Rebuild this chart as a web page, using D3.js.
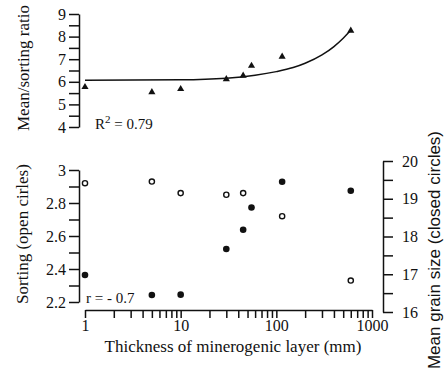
<!DOCTYPE html>
<html>
<head>
<meta charset="utf-8">
<script src="https://cdn.jsdelivr.net/npm/d3@7"></script>
<style>
  body { margin: 0; background: #fff; }
  text { font-family: "Liberation Serif", "Times New Roman", serif; fill: #111; }
  .domain, .tick line { stroke: #111; stroke-width: 1.5; }
</style>
</head>
<body>
<div id="chart"></div>
<script>
// thickness of minerogenic layer (mm)
const thickness = [1, 5, 10, 30, 45, 55, 115, 600];
// mean/sorting ratio (triangles, top panel)
const ratio = [5.77, 5.54, 5.68, 6.12, 6.27, 6.71, 7.11, 8.26];
// fitted curve
const fitX = [1, 10, 30, 60, 100, 150, 200, 300, 400, 500, 600];
const fitY = [6.07, 6.09, 6.16, 6.29, 6.45, 6.63, 6.82, 7.19, 7.56, 7.93, 8.28];
// sorting (open circles, left axis)
const sortingX = [1, 5, 10, 30, 45, 115, 600];
const sorting = [2.92, 2.93, 2.86, 2.85, 2.86, 2.72, 2.33];
// mean grain size (closed circles, right axis)
const grain = [16.98, 16.45, 16.46, 17.67, 18.18, 18.77, 19.45, 19.21];

const xLabels = [1, 10, 100, 1000];
const ratioTicks = d3.range(4, 9.01, 0.5);
const sortTicks = d3.range(2.2, 3.001, 0.1);
const grainTicks = d3.range(16, 20.01, 0.5);

const width = 445, height = 375;

const svg = d3.select("#chart").append("svg")
    .attr("width", width)
    .attr("height", height);

const x = d3.scaleLog().domain([1, 1000]).range([85, 372]);
const yRatio = d3.scaleLinear().domain([4, 9]).range([127, 14]);
const ySort = d3.scaleLinear().domain([2.2, 3]).range([302, 170]);
const yGrain = d3.scaleLinear().domain([16, 20]).range([312, 161]);

const fmtInt = d => Math.abs(d - Math.round(d)) < 1e-6 ? d3.format("d")(d) : "";

// ---- top panel ----
svg.append("g")
    .attr("transform", "translate(79,0)")
    .call(d3.axisLeft(yRatio).tickValues(ratioTicks).tickSize(10).tickSizeOuter(0).tickFormat(fmtInt))
    .call(g => g.selectAll("text").attr("font-size", 16).attr("x", -13));

svg.append("path")
    .datum(fitX.map((v, i) => [v, fitY[i]]))
    .attr("fill", "none")
    .attr("stroke", "#111")
    .attr("stroke-width", 1.5)
    .attr("d", d3.line().x(d => x(d[0])).y(d => yRatio(d[1])).curve(d3.curveMonotoneX));

svg.selectAll(".tri")
    .data(thickness)
    .enter()
    .append("path")
    .attr("class", "tri")
    .attr("transform", (d, i) => `translate(${x(d)},${yRatio(ratio[i])})`)
    .attr("d", d3.symbol(d3.symbolTriangle).size(22))
    .attr("fill", "#111");

const r2 = svg.append("text").attr("x", 95).attr("y", 129).attr("font-size", 15);
r2.append("tspan").text("R");
r2.append("tspan").attr("dy", -6).attr("font-size", 11).text("2");
r2.append("tspan").attr("dy", 6).text(" = 0.79");

svg.append("text")
    .attr("transform", "translate(29,68) rotate(-90)")
    .attr("text-anchor", "middle")
    .attr("font-size", 17)
    .text("Mean/sorting ratio");

// ---- bottom panel ----
svg.append("g")
    .attr("transform", "translate(79,0)")
    .call(d3.axisLeft(ySort).tickValues(sortTicks).tickSize(10).tickSizeOuter(0)
        .tickFormat(d => Math.round(d * 10) % 2 === 0 ? d3.format(".1f")(d).replace("3.0", "3") : ""))
    .call(g => g.selectAll("text").attr("font-size", 16).attr("x", -13));

svg.append("g")
    .attr("transform", "translate(383,0)")
    .call(d3.axisRight(yGrain).tickValues(grainTicks).tickSize(10).tickSizeOuter(0).tickFormat(fmtInt))
    .call(g => g.selectAll("text").attr("font-size", 16).attr("x", 19));

const xTicks = [];
[1, 10, 100].forEach(dec => d3.range(1, 10).forEach(k => xTicks.push(k * dec)));
xTicks.push(1000);

svg.append("g")
    .attr("transform", "translate(0,310)")
    .call(d3.axisBottom(x).tickValues(xTicks).tickSize(8).tickSizeOuter(0)
        .tickFormat(d => xLabels.includes(d) ? d : ""))
    .call(g => g.selectAll("text").attr("font-size", 16).attr("dy", null).attr("y", 21));

svg.selectAll(".open")
    .data(sortingX)
    .enter()
    .append("circle")
    .attr("class", "open")
    .attr("cx", d => x(d))
    .attr("cy", (d, i) => ySort(sorting[i]))
    .attr("r", 2.6)
    .attr("fill", "#fff")
    .attr("stroke", "#111")
    .attr("stroke-width", 1.4);

svg.selectAll(".closed")
    .data(thickness)
    .enter()
    .append("circle")
    .attr("class", "closed")
    .attr("cx", d => x(d))
    .attr("cy", (d, i) => yGrain(grain[i]))
    .attr("r", 3.3)
    .attr("fill", "#111");

svg.append("text")
    .attr("x", 86).attr("y", 303)
    .attr("font-size", 15)
    .text("r = - 0.7");

svg.append("text")
    .attr("x", 233).attr("y", 352)
    .attr("text-anchor", "middle")
    .attr("font-size", 17)
    .text("Thickness of minerogenic layer (mm)");

svg.append("text")
    .attr("transform", "translate(28,234) rotate(-90)")
    .attr("text-anchor", "middle")
    .attr("font-size", 17)
    .text("Sorting (open cirles)");

svg.append("text")
    .attr("transform", "translate(440,250) rotate(-90)")
    .attr("text-anchor", "middle")
    .attr("font-size", 17)
    .style("font-family", "'Liberation Sans', Arial, sans-serif")
    .text("Mean grain size (closed circles)");
</script>
</body>
</html>
